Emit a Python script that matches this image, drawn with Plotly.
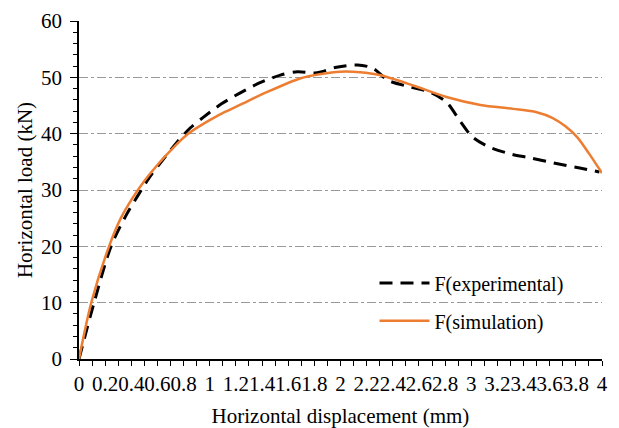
import plotly.graph_objects as go

# Experimental curve (dashed)
exp_x = [0, 0.115, 0.245, 0.36, 0.45, 0.54, 0.64, 0.75, 0.85, 0.95, 1.09, 1.23, 1.38, 1.54, 1.67, 1.82, 1.97, 2.13, 2.25, 2.36, 2.53, 2.68, 2.81, 2.91, 3.01, 3.14, 3.30, 3.45, 3.63, 3.83, 3.98]
exp_y = [0, 10.0, 20.0, 25.5, 29.0, 32.3, 35.3, 38.5, 41.0, 42.9, 45.3, 47.2, 49.0, 50.4, 51.0, 50.8, 51.8, 52.2, 51.6, 49.5, 48.3, 47.4, 45.6, 42.4, 39.4, 37.6, 36.4, 35.7, 34.8, 33.9, 33.2]

# Simulation curve (solid)
sim_x = [0, 0.094, 0.23, 0.32, 0.41, 0.49, 0.58, 0.66, 0.75, 0.83, 0.92, 1.0, 1.12, 1.23, 1.44, 1.69, 1.85, 2.0, 2.15, 2.30, 2.55, 2.81, 3.07, 3.32, 3.50, 3.62, 3.72, 3.81, 3.90, 4.0]
sim_y = [0, 10.0, 20.0, 25.0, 28.6, 31.3, 33.9, 36.0, 38.2, 39.9, 41.3, 42.4, 43.9, 45.1, 47.4, 49.8, 50.6, 51.0, 50.9, 50.4, 48.6, 46.5, 45.1, 44.4, 43.8, 42.8, 41.3, 39.4, 36.5, 33.0]

names = ["F(experimental)", "F(simulation)"]
x_title = "Horizontal displacement (mm)"
y_title = "Horizontal load (kN)"

FONT = "Liberation Serif, Times New Roman, serif"

fig = go.Figure()
fig.add_trace(go.Scatter(x=exp_x, y=exp_y, mode="lines", name=names[0],
                         line=dict(color="black", width=3, dash="13px,8px", shape="spline", smoothing=0.8),
                         legend="legend", showlegend=True))
fig.add_trace(go.Scatter(x=sim_x, y=sim_y, mode="lines", name=names[1],
                         line=dict(color="#ED7D31", width=2.5, shape="spline", smoothing=0.8),
                         legend="legend2", showlegend=True))

# page body has an 8px margin, so the figure is 8px smaller than the window
fig.update_layout(
    width=611, height=420,
    margin=dict(l=71, r=17, t=13, b=69),
    paper_bgcolor="white", plot_bgcolor="white",
    font=dict(family=FONT, size=21, color="black"),
    showlegend=True,
    legend=dict(x=0.565, y=0.225, xanchor="left", yanchor="middle",
                bgcolor="rgba(0,0,0,0)", font=dict(size=20), itemwidth=50),
    legend2=dict(x=0.565, y=0.113, xanchor="left", yanchor="middle",
                 bgcolor="rgba(0,0,0,0)", font=dict(size=20), itemwidth=50),
)

fig.update_xaxes(
    range=[0, 4], tick0=0, dtick=0.2, tickangle=0, automargin=False,
    showline=True, linecolor="black", linewidth=1.5,
    ticks="outside", ticklen=5, tickcolor="black", tickwidth=1,
    minor=dict(dtick=0.1, ticks="outside", ticklen=5, tickcolor="black"),
    showgrid=False, zeroline=False,
    title=dict(text=x_title, font=dict(size=21), standoff=13),
    tickfont=dict(size=21),
)
fig.update_yaxes(
    range=[0, 60], dtick=10, automargin=False,
    showline=True, linecolor="black", linewidth=1.5,
    ticks="outside", ticklen=7, tickcolor="black", tickwidth=1,
    minor=dict(dtick=2, ticks="outside", ticklen=4, tickcolor="black"),
    showgrid=True, gridcolor="#999999", griddash="dashdot", gridwidth=1,
    zeroline=False, ticklabelstandoff=4,
    title=dict(text=y_title, font=dict(size=21), standoff=3),
    tickfont=dict(size=21),
)

fig.write_html("out.html")
